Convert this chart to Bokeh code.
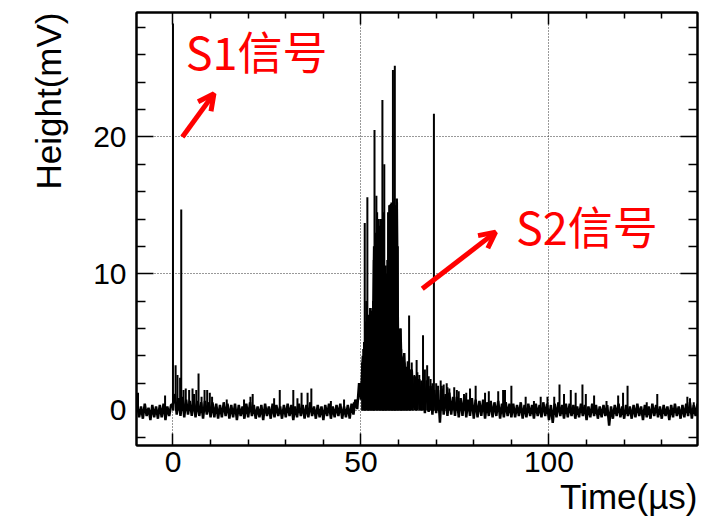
import numpy as np
from bokeh.plotting import figure
from bokeh.models import (LinearAxis, FixedTicker, Label, Arrow, OpenHead,
                          Title, CustomJSTickFormatter)
from bokeh.embed import file_html
from bokeh.resources import INLINE

# ---------------- data ----------------
T_START = -9.5      # first sample time (us)
T_STEP = 0.5

# trace height (mV), one value per sample, from t=-9.5 to 139.5 us
h_wave = [
    0.4, -0.5, 0.3, -0.6, 0.5, -0.4, 0.2, -0.7, 0.4, -0.5,
    0.3, -0.6, 0.4, -0.5, 0.5, -0.7, 0.3, -0.4, 0.4, 0.5,
    1.2, -0.3, 0.9, -0.4, 1.0, -0.5, 0.8, -0.3, 0.7, -0.4,
    0.8, -0.5, 0.7, -0.4, 0.6, -0.6, 0.7, -0.3, 0.6, -0.5,
    0.6, -0.5, 0.5, -0.6, 0.4, -0.5, 0.6, -0.4, 0.5, -0.6,
    0.4, -0.5, 0.5, -0.7, 0.4, -0.4, 0.3, -0.6, 0.5, -0.5,
    0.6, -0.4, 0.4, -0.6, 0.3, -0.5, 0.4, -0.7, 0.5, -0.4,
    0.3, -0.6, 0.5, -0.5, 0.4, -0.4, 0.3, -0.6, 0.4, -0.5,
    0.5, -0.4, 0.4, -0.7, 0.3, -0.5, 0.5, -0.4, 0.4, -0.6,
    0.4, -0.5, 0.6, -0.4, 0.3, -0.6, 0.4, -0.5, 0.3, -0.7,
    0.4, -0.4, 0.5, -0.6, 0.3, -0.5, 0.4, -0.4, 0.5, -0.6,
    0.3, -0.5, 0.4, -0.6, 0.5, -0.3, 0.8, 0.1, 2.0, 0.8,
    4.0, 0.6, 6.0, 0.8, 7.5, 0.9, 12.0, 1.2, 14.0, 1.5,
    13.5, 1.0, 9.5, 1.3, 14.0, 0.8, 15.0, 1.0, 15.5, 0.6,
    6.0, 0.5, 4.2, 0.4, 3.6, 0.3, 3.0, 0.2, 2.5, 0.1,
    2.3, 0.0, 2.0, -0.2, 2.2, -0.1, 1.8, -0.3, 1.5, -0.2,
    1.5, -0.9, 1.6, -0.3, 1.2, -0.4, 1.3, -0.3, 1.0, -0.4,
    1.0, -0.5, 0.9, -0.4, 1.1, -0.5, 0.8, -0.4, 0.9, -0.6,
    0.8, -0.5, 0.7, -0.4, 0.8, -0.6, 0.6, -0.4, 0.7, -0.5,
    0.6, -0.4, 0.7, -0.6, 0.5, -0.5, 0.6, -0.4, 0.5, -0.5,
    0.5, -0.5, 0.4, -0.4, 0.6, -0.6, 0.4, -0.5, 0.5, -0.4,
    0.4, -0.6, 0.5, -0.4, 0.4, -0.5, 0.6, -0.4, 0.5, -0.7,
    0.4, -0.9, 0.5, -0.5, 0.6, -0.4, 0.4, -0.6, 0.5, -0.5,
    0.5, -0.4, 0.4, -0.6, 0.3, -0.5, 0.5, -0.4, 0.4, -0.7,
    0.3, -0.5, 0.5, -0.4, 0.4, -0.6, 0.3, -0.5, 0.4, -0.4,
    0.4, -1.1, 0.3, -0.6, 0.4, -0.4, 0.5, -0.5, 0.3, -0.6,
    0.4, -0.4, 0.3, -0.6, 0.4, -0.5, 0.5, -0.4, 0.3, -0.7,
    0.4, -0.5, 0.3, -0.6, 0.5, -0.4, 0.4, -0.5, 0.3, -0.6,
    0.4, -0.4, 0.3, -0.7, 0.4, -0.5, 0.5, -0.4, 0.3, -0.6,
    0.4, -0.5, 0.5, -0.4, 0.6, -0.6, 0.4, -0.4, 0.5,
]
t_wave = T_START + T_STEP * np.arange(len(h_wave))

# narrow single-sample spikes: time (us) and peak height (mV)
spike_t = [
    -9.3, -2.1, 0.0, 0.7, 1.2, 1.9, 2.2, 2.8, 3.4, 4.3, 5.2, 5.6, 6.2, 6.8,
    7.6, 8.4, 9.1, 9.8, 10.4, 14.3, 18.9, 20.6, 21.2, 26.9, 28.4, 32.0, 33.1,
    34.2, 35.8, 36.8, 42.0, 45.5, 48.1,
    # S2 cluster
    50.3, 50.6, 50.8, 51.0, 51.2, 51.4, 51.7, 51.9, 52.1, 52.3, 52.5, 52.8,
    53.0, 53.2, 53.4, 53.6, 53.8, 54.1, 54.3, 54.6, 54.8, 55.1, 55.3, 55.5,
    55.7, 55.9, 56.0, 56.2, 56.4, 56.6, 56.8, 57.0, 57.2, 57.5, 57.7, 57.9,
    58.1, 58.3, 58.5, 58.7, 58.9, 59.0, 59.2, 59.4, 59.6, 59.8, 60.1, 60.3,
    60.5, 60.7, 60.9, 61.1, 61.3, 61.6, 61.8, 62.0, 62.2, 62.5, 62.8, 63.0,
    63.2, 63.5, 63.8, 64.2, 64.6, 64.8, 65.0, 65.5, 66.0, 66.5, 67.0, 67.6,
    68.0, 68.5, 69.0, 69.4, 70.0, 70.5, 71.2, 71.5, 72.0, 72.8, 73.0, 73.5,
    74.8, 75.5, 76.0, 77.4, 78.0, 79.0,
    80.5, 83.0, 84.0, 86.5, 87.8, 88.3, 90.0, 93.8, 96.0, 97.8, 99.6, 101.4,
    102.8, 104.0, 105.8, 107.1, 108.9, 109.8, 112.0, 115.3, 118.4, 119.7,
    120.9, 126.0, 128.8, 136.8, 137.5, 138.5,
]
spike_h = [
    1.3, 1.1, 28.3, 3.3, 2.6, 2.4, 14.7, 1.5, 1.6, 1.5, 1.6, 1.2, 1.5, 2.7,
    1.0, 1.5, 1.5, 1.3, 1.0, 0.8, 0.8, 1.0, 1.2, 0.9, 1.5, 1.5, 0.9,
    1.3, 1.3, 1.6, 0.7, 0.8, 0.6,
    3.5, 4.5, 5.0, 13.7, 6.5, 8.0, 15.6, 5.5, 7.0, 6.0, 7.5, 7.3,
    6.5, 8.0, 11.0, 20.5, 13.0, 15.7, 14.5, 12.0, 13.5, 14.0, 12.5, 14.0,
    22.7, 9.0, 14.5, 18.0, 9.5, 10.6, 10.0, 11.0, 14.5, 15.0, 15.0, 15.1,
    15.2, 14.0, 24.9, 15.3, 14.8, 25.2, 15.0, 14.0, 15.2, 12.0, 5.8, 5.0,
    6.0, 4.5, 3.9, 3.8, 4.0, 3.5, 2.9, 3.2, 3.0, 3.4, 6.95, 2.8,
    3.0, 3.5, 2.5, 2.6, 2.4, 3.7, 2.8, 2.6, 2.2, 5.5, 3.0, 3.3,
    2.5, 2.3, 2.0, 21.7, 2.0, 1.8, 2.2, 1.8, 1.9, 2.0, 1.7, 1.6,
    1.7, 1.5, 1.4, 1.2, 1.3, 1.6,
    1.8, 1.3, 1.4, 1.4, 1.5, 1.5, 1.8, 1.0, 0.7, 1.0, 1.0, 1.0,
    1.9, 1.2, 1.5, 1.3, 1.9, 1.2, 1.1, 0.7, 1.1, 1.3,
    1.8, 0.6, 1.2, 1.0, 0.9, 0.6,
]

x_major = [0, 50, 100]
x_minor = [-10, 10, 20, 30, 40, 60, 70, 80, 90, 110, 120, 130, 140]
y_major = [0, 10, 20]
y_minor = [-2, 2, 4, 6, 8, 12, 14, 16, 18, 22, 24, 26, 28]

x_title = "Time(µs)"
y_title = "Height(mV)"
s1_text = "S1信号"
s2_text = "S2信号"

# ---------------- figure ----------------
X0, X1 = -9.7, 139.5
Y0, Y1 = -2.56, 29.1
p = figure(width=701, height=526, x_range=(X0, X1), y_range=(Y0, Y1),
           output_backend="svg", toolbar_location=None,
           min_border_left=136, min_border_right=4,
           min_border_top=12, min_border_bottom=81)
p.background_fill_color = "white"
p.border_fill_color = "white"
p.outline_line_color = "black"
p.outline_line_width = 2

FONT = "Liberation Sans"
blank = CustomJSTickFormatter(code="return ''")

def style_axis(ax, is_x, major_len, minor_len, labels):
    ax.ticker = FixedTicker(ticks=x_major if is_x else y_major,
                            minor_ticks=x_minor if is_x else y_minor)
    ax.axis_line_color = "black"
    ax.axis_line_width = 2
    ax.major_tick_in = major_len
    ax.major_tick_out = 0
    ax.minor_tick_in = minor_len
    ax.minor_tick_out = 0
    ax.major_tick_line_width = 1.5
    ax.minor_tick_line_width = 1.5
    ax.major_tick_line_color = "black"
    ax.minor_tick_line_color = "black"
    ax.major_label_text_font = FONT
    ax.major_label_text_color = "black"
    if labels:
        ax.major_label_text_font_size = "30px"
        ax.major_label_standoff = 10
    else:
        ax.formatter = blank
        ax.major_label_text_font_size = "1px"
        ax.major_label_standoff = 0

bottom = p.xaxis[0]
left = p.yaxis[0]
top = LinearAxis()
right = LinearAxis()
p.add_layout(top, "above")
p.add_layout(right, "right")
style_axis(bottom, True, 12, 6, True)
style_axis(top, True, 12, 6, False)
style_axis(left, False, 17, 9, True)
style_axis(right, False, 17, 9, False)
bottom.major_label_standoff = 6

p.xgrid.ticker = FixedTicker(ticks=x_major)
p.ygrid.ticker = FixedTicker(ticks=y_major)
for g in (p.xgrid, p.ygrid):
    g.grid_line_color = "#333333"
    g.grid_line_dash = "1 2"
    g.grid_line_width = 1

# trace
p.line(t_wave, h_wave, line_color="black", line_width=2.5)
p.segment(x0=spike_t, y0=[0.0] * len(spike_t), x1=spike_t, y1=spike_h,
          line_color="black", line_width=2)

# axis titles (ROOT style: right / top aligned)
p.add_layout(Title(text=x_title, align="right", text_font=FONT,
                   text_font_size="35px", text_font_style="normal",
                   text_color="black", standoff=0), "below")
p.add_layout(Title(text=y_title, align="right", text_font=FONT,
                   text_font_size="35px", text_font_style="normal",
                   text_color="black", standoff=46), "left")

# annotations
RED = "#ff0000"
CJK = "Noto Sans CJK SC"
p.add_layout(Label(x=3.4, y=26.3, text=s1_text, text_baseline="alphabetic",
                   text_font=CJK, text_font_size="45px", text_color=RED))
p.add_layout(Label(x=91.2, y=13.55, text=s2_text, text_baseline="alphabetic",
                   text_font=CJK, text_font_size="45px", text_color=RED))
p.add_layout(Arrow(x_start=2.5, y_start=20.0, x_end=10.9, y_end=23.17,
                   line_color=RED, line_width=5,
                   end=OpenHead(line_color=RED, line_width=5, size=16)))
p.add_layout(Arrow(x_start=66.3, y_start=8.9, x_end=85.8, y_end=13.04,
                   line_color=RED, line_width=5,
                   end=OpenHead(line_color=RED, line_width=5, size=16)))

open("out.html", "w").write(file_html(p, INLINE))
